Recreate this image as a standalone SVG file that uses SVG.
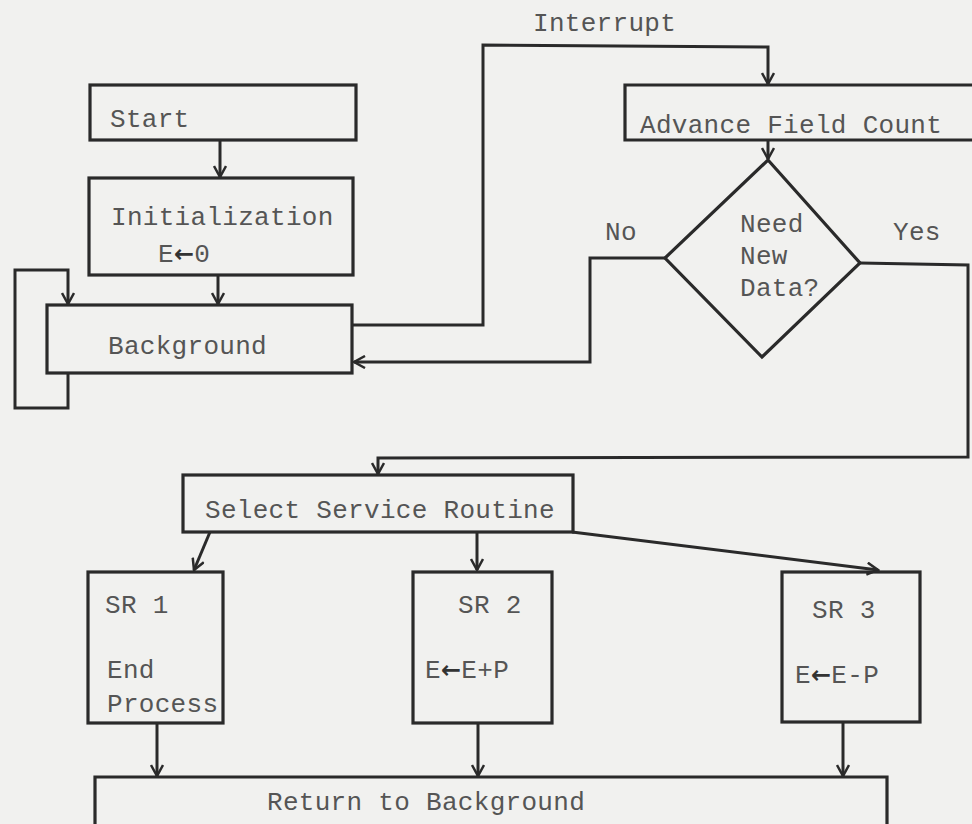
<svg xmlns="http://www.w3.org/2000/svg" width="972" height="824" viewBox="0 0 972 824">
<defs>
<marker id="arr" viewBox="0 0 14 14" refX="12" refY="7" markerWidth="14" markerHeight="14" markerUnits="userSpaceOnUse" orient="auto">
<path d="M1,1 L12,7 L1,13" fill="none" stroke="#2a2a2a" stroke-width="2.5"/>
</marker>
</defs>
<style>
.box{fill:none;stroke:#2a2a2a;stroke-width:3.2}
.ln{fill:none;stroke:#2a2a2a;stroke-width:3}
.arr{marker-end:url(#arr)}
text{font-family:"Liberation Mono","DejaVu Sans Mono",monospace;font-size:26px;letter-spacing:0.3px;fill:#555}
.b{font-weight:bold;fill:#333;font-family:"DejaVu Sans",sans-serif;font-size:24px}
</style>
<rect width="972" height="824" fill="#f1f1ef"/>
<g id="connectors">
<line class="ln arr" x1="220" y1="140" x2="220" y2="177"/>
<line class="ln arr" x1="218" y1="275" x2="218" y2="304"/>
<polyline class="ln arr" points="68,373 68,408 15,408 15,270 68,270 68,304"/>
<polyline class="ln arr" points="352,325 483,325 483,45 768,47 768,84"/>
<line class="ln arr" x1="768" y1="140" x2="768" y2="159"/>
<polyline class="ln arr" points="665,258 590,258 590,362 354,362"/>
<polyline class="ln arr" points="860,263 968,265 968,457 378,458 378,474"/>
<line class="ln arr" x1="210" y1="532" x2="194" y2="570"/>
<line class="ln arr" x1="477" y1="532" x2="477" y2="570"/>
<line class="ln arr" x1="572" y1="532" x2="878" y2="570"/>
<line class="ln arr" x1="157" y1="723" x2="157" y2="776"/>
<line class="ln arr" x1="478" y1="723" x2="478" y2="776"/>
<line class="ln arr" x1="843" y1="722" x2="843" y2="776"/>
<text x="533" y="31">Interrupt</text>
<text x="605" y="240">No</text>
<text x="893" y="240">Yes</text>
</g>
<g id="start">
<rect class="box" x="90" y="85" width="266" height="55"/>
<text x="110" y="127">Start</text>
</g>
<g id="init">
<rect class="box" x="89" y="178" width="264" height="97"/>
<text x="111" y="225">Initialization</text>
<text x="158" y="262">E<tspan class="b">←</tspan>0</text>
</g>
<g id="background">
<rect class="box" x="47" y="305" width="305" height="68"/>
<text x="108" y="354">Background</text>
</g>
<g id="advance">
<polyline class="box" points="975,85 625,85 625,140 975,140"/>
<text x="640" y="133">Advance Field Count</text>
</g>
<g id="decision">
<polygon class="box" points="768,160 860,263 762,357 665,258"/>
<text x="740" y="232">Need</text>
<text x="740" y="264">New</text>
<text x="740" y="296">Data?</text>
</g>
<g id="select">
<rect class="box" x="183" y="475" width="390" height="57"/>
<text x="205" y="518">Select Service Routine</text>
</g>
<g id="sr1">
<rect class="box" x="88" y="572" width="135" height="151"/>
<text x="105" y="613">SR 1</text>
<text x="107" y="678">End</text>
<text x="107" y="712">Process</text>
</g>
<g id="sr2">
<rect class="box" x="413" y="572" width="139" height="151"/>
<text x="458" y="613">SR 2</text>
<text x="425" y="678">E<tspan class="b">←</tspan>E+P</text>
</g>
<g id="sr3">
<rect class="box" x="782" y="572" width="138" height="150"/>
<text x="812" y="618">SR 3</text>
<text x="795" y="683">E<tspan class="b">←</tspan>E-P</text>
</g>
<g id="return">
<polyline class="box" points="95,826 95,777 887,777 887,826"/>
<text x="267" y="810">Return to Background</text>
</g>
</svg>
